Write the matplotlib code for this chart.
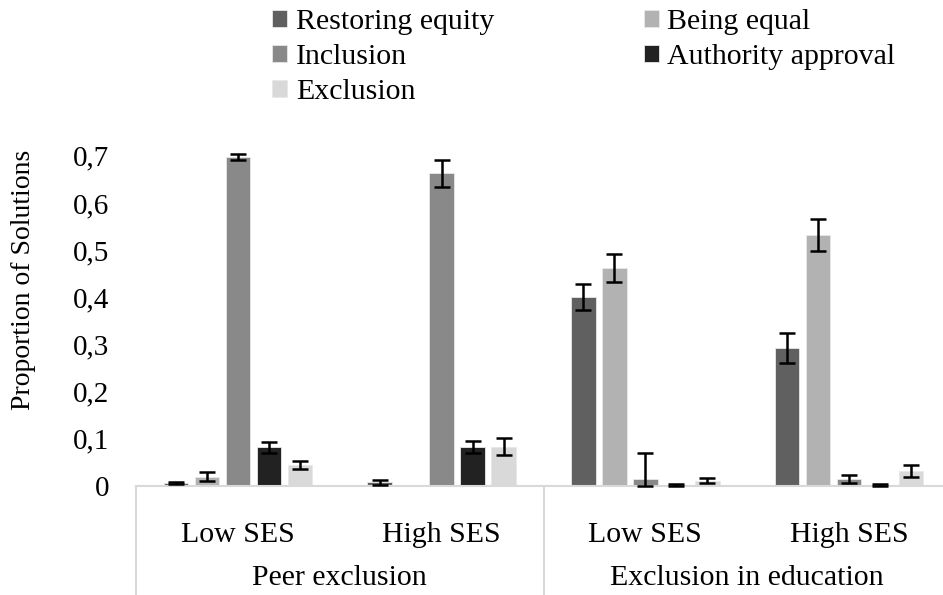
import numpy as np
import matplotlib.pyplot as plt
from matplotlib.ticker import FuncFormatter
from matplotlib.transforms import blended_transform_factory

# values
sub_labels = ["Low SES", "High SES", "Low SES", "High SES"]
group_labels = ["Peer exclusion", "Exclusion in education"]
series = ["Restoring equity", "Being equal", "Inclusion", "Authority approval", "Exclusion"]
colors = ["#606060", "#b2b2b2", "#898989", "#222222", "#d9d9d9"]

restoring = [0.006, 0.007, 0.400, 0.292]
being_equal = [0.019, 0.0, 0.462, 0.532]
inclusion = [0.698, 0.663, 0.014, 0.014]
authority = [0.081, 0.082, 0.002, 0.002]
exclusion = [0.044, 0.082, 0.010, 0.031]

restoring_err = [0.002, 0.005, 0.028, 0.031]
being_equal_err = [0.009, 0.0, 0.030, 0.034]
inclusion_err = [0.006, 0.029, 0.056, 0.008]
authority_err = [0.011, 0.013, 0.002, 0.002]
exclusion_err = [0.009, 0.018, 0.005, 0.012]

values = [restoring, being_equal, inclusion, authority, exclusion]
errors = [restoring_err, being_equal_err, inclusion_err, authority_err, exclusion_err]

plt.rcParams['font.family'] = ['Liberation Serif', 'DejaVu Serif']
fs = 21.5

fig = plt.figure(figsize=(9.43, 5.95), dpi=100)
ax = fig.add_axes([136 / 943, 109.5 / 595, 815 / 943, 329.7 / 595])

x = np.arange(len(sub_labels))
step = 0.152
width = 0.12
handles = []
for i, (vals, errs, col) in enumerate(zip(values, errors, colors)):
    pos = x + (i - 2) * step
    vals = np.array(vals)
    errs = np.array(errs)
    lower = np.minimum(vals, errs)
    b = ax.bar(pos, vals, width, color=col, edgecolor="#e8e8e8", linewidth=0.6, zorder=2)
    handles.append(b)
    mask = errs > 0
    ax.errorbar(pos[mask], vals[mask], yerr=[lower[mask], errs[mask]], fmt="none",
                ecolor="black", elinewidth=1.8, capsize=6, capthick=1.8, zorder=3, clip_on=False)

ax.set_xlim(-0.5, 3.5)
ax.set_ylim(0, 0.7)
ax.set_yticks(np.arange(0, 0.71, 0.1))
ax.yaxis.set_major_formatter(FuncFormatter(lambda v, p: "0" if abs(v) < 1e-9 else f"{v:.1f}".replace(".", ",")))
ax.tick_params(axis="y", length=0, pad=19, labelsize=21)
ax.set_xticks([])
for s in ["top", "right", "left"]:
    ax.spines[s].set_visible(False)
ax.spines["bottom"].set_color("#d9d9d9")
ax.spines["bottom"].set_linewidth(1.5)

# two-level category axis
ftrans = blended_transform_factory(ax.transData, fig.transFigure)
for xi, lab in zip(x, sub_labels):
    ax.text(xi, 1 - 535 / 595, lab, transform=ftrans, ha="center", va="center", fontsize=fs)
for gi, lab in enumerate(group_labels):
    ax.text(gi * 2 + 0.5, 1 - 578 / 595, lab, transform=ftrans, ha="center", va="center", fontsize=fs)
for xs in [-0.5, 1.5, 3.5]:
    ax.plot([xs, xs], [0, -0.36], color="#d9d9d9", lw=1.5, clip_on=False)

fig.text(24 / 943, 1 - 280 / 595, "Proportion of Solutions", rotation=90,
         ha="center", va="center", fontsize=20)

order = [0, 2, 4, 1, 3]
fig.legend([handles[i] for i in order], [series[i] for i in order], ncol=2,
           loc="upper left", bbox_to_anchor=(272 / 943, 0.985), frameon=False,
           fontsize=fs, handlelength=0.5, handleheight=0.5, handletextpad=0.3,
           labelspacing=0.31, columnspacing=5.0, borderpad=0, borderaxespad=0)

fig.savefig("out.png", dpi=100)
